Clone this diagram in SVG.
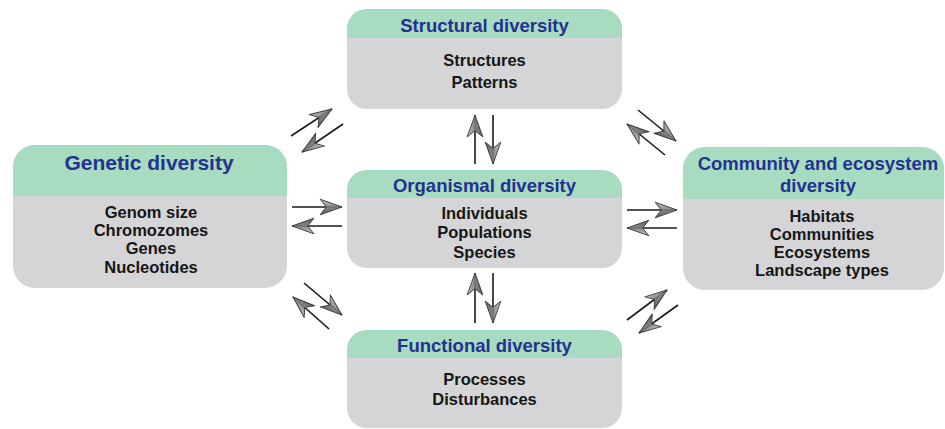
<svg xmlns="http://www.w3.org/2000/svg" width="945" height="429" viewBox="0 0 945 429">
  <style>
    .body { fill: #d5d5d7; }
    .head { fill: #a7dcc0; }
    .title { font-family: "Liberation Sans", Arial, sans-serif; font-weight: bold; font-size: 18.5px; fill: #243190; text-anchor: middle; }
    .big { font-size: 21px; }
    .item { font-family: "Liberation Sans", Arial, sans-serif; font-weight: bold; font-size: 16.5px; fill: #161616; text-anchor: middle; }
    .link { stroke: #1a1a1a; stroke-width: 1.6; fill: none; marker-end: url(#tip); }
  </style>
  <defs>
    <linearGradient id="tipShade" x1="0" y1="0" x2="0" y2="1">
      <stop offset="0" stop-color="#c4c4c4"/>
      <stop offset="0.5" stop-color="#8a8a8a"/>
      <stop offset="1" stop-color="#5a5a5a"/>
    </linearGradient>
    <marker id="tip" markerUnits="userSpaceOnUse" markerWidth="24" markerHeight="20" viewBox="-1 -9 23 18" refX="21" refY="0" orient="auto">
      <path d="M21,0 L0,-7.5 L6,0 L0,7.5 Z" fill="url(#tipShade)" stroke="#3c3c3c" stroke-width="0.9" stroke-linejoin="round"/>
      <path d="M21,0 L6,0" stroke="#4a4a4a" stroke-width="0.6"/>
    </marker>
  </defs>

  <!-- Structural diversity -->
  <g id="structural">
    <rect class="body" x="347" y="9" width="275" height="100" rx="20"/>
    <path class="head" d="M347,38 V29 A20,20 0 0 1 367,9 H602 A20,20 0 0 1 622,29 V38 Z"/>
    <text class="title" x="484.5" y="32">Structural diversity</text>
    <text class="item" x="484.5" y="66">Structures</text>
    <text class="item" x="484.5" y="88">Patterns</text>
  </g>

  <!-- Genetic diversity -->
  <g id="genetic">
    <rect class="body" x="13" y="145" width="274" height="143" rx="22"/>
    <path class="head" d="M13,196 V167 A22,22 0 0 1 35,145 H265 A22,22 0 0 1 287,167 V196 Z"/>
    <text class="title big" x="149" y="170">Genetic diversity</text>
    <text class="item" x="151" y="218">Genom size</text>
    <text class="item" x="151" y="236">Chromozomes</text>
    <text class="item" x="151" y="254">Genes</text>
    <text class="item" x="151" y="273">Nucleotides</text>
  </g>

  <!-- Organismal diversity -->
  <g id="organismal">
    <rect class="body" x="347" y="170" width="275" height="98" rx="20"/>
    <path class="head" d="M347,198 V190 A20,20 0 0 1 367,170 H602 A20,20 0 0 1 622,190 V198 Z"/>
    <text class="title" x="484.5" y="191.5">Organismal diversity</text>
    <text class="item" x="484.5" y="219">Individuals</text>
    <text class="item" x="484.5" y="238">Populations</text>
    <text class="item" x="484.5" y="258">Species</text>
  </g>

  <!-- Community and ecosystem diversity -->
  <g id="community">
    <rect class="body" x="683" y="147" width="261" height="143" rx="22"/>
    <path class="head" d="M683,199 V169 A22,22 0 0 1 705,147 H922 A22,22 0 0 1 944,169 V199 Z"/>
    <text class="title" x="818" y="170">Community and ecosystem</text>
    <text class="title" x="818" y="192">diversity</text>
    <text class="item" x="822" y="222">Habitats</text>
    <text class="item" x="822" y="240">Communities</text>
    <text class="item" x="822" y="258">Ecosystems</text>
    <text class="item" x="822" y="276">Landscape types</text>
  </g>

  <!-- Functional diversity -->
  <g id="functional">
    <rect class="body" x="347" y="330" width="275" height="98" rx="20"/>
    <path class="head" d="M347,358 V350 A20,20 0 0 1 367,330 H602 A20,20 0 0 1 622,350 V358 Z"/>
    <text class="title" x="484.5" y="352">Functional diversity</text>
    <text class="item" x="484.5" y="385">Processes</text>
    <text class="item" x="484.5" y="405">Disturbances</text>
  </g>

  <!-- paired two-way connectors -->
  <g id="connectors">
    <!-- genetic <-> structural -->
    <line class="link" x1="291" y1="136" x2="332" y2="109"/>
    <line class="link" x1="343" y1="124" x2="302" y2="152"/>
    <!-- organismal <-> structural -->
    <line class="link" x1="475" y1="164" x2="475" y2="115"/>
    <line class="link" x1="493" y1="115" x2="493" y2="164"/>
    <!-- structural <-> community -->
    <line class="link" x1="638" y1="110" x2="676" y2="141"/>
    <line class="link" x1="665" y1="155" x2="627" y2="124"/>
    <!-- genetic <-> organismal -->
    <line class="link" x1="292" y1="207" x2="342" y2="207"/>
    <line class="link" x1="342" y1="226" x2="292" y2="226"/>
    <!-- organismal <-> community -->
    <line class="link" x1="627" y1="210" x2="677" y2="210"/>
    <line class="link" x1="677" y1="228" x2="627" y2="228"/>
    <!-- genetic <-> functional -->
    <line class="link" x1="304" y1="283" x2="342" y2="315"/>
    <line class="link" x1="329" y1="329" x2="293" y2="297"/>
    <!-- organismal <-> functional -->
    <line class="link" x1="475" y1="323" x2="475" y2="273"/>
    <line class="link" x1="493" y1="273" x2="493" y2="323"/>
    <!-- functional <-> community -->
    <line class="link" x1="627" y1="320" x2="667" y2="290"/>
    <line class="link" x1="678" y1="305" x2="639" y2="333"/>
  </g>
</svg>
